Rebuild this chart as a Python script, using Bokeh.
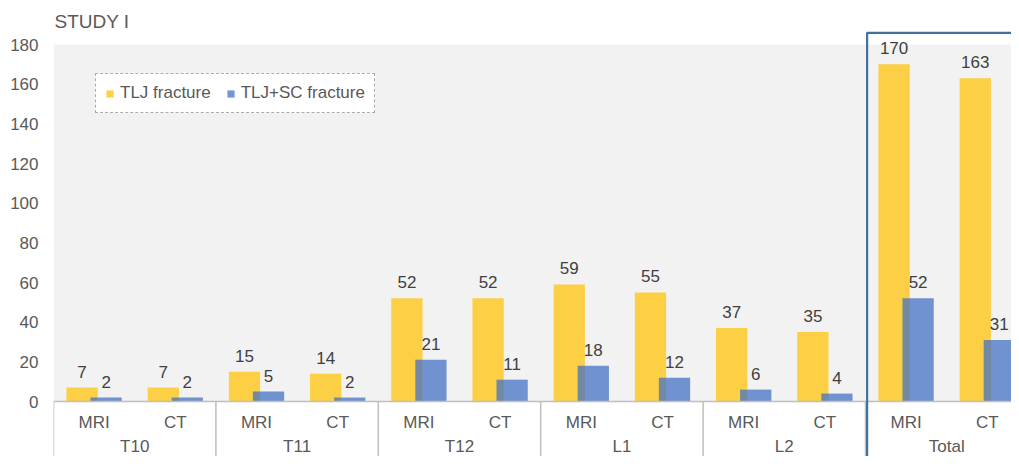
from bokeh.plotting import figure
from bokeh.models import (Range1d, FixedTicker, BoxAnnotation, Span, Legend,
                          LegendItem, ColumnDataSource)
from bokeh.core.properties import value
from bokeh.embed import file_html
from bokeh.resources import INLINE

# ---------------- data ----------------
title_text = "STUDY I"
groups = ["T10", "T11", "T12", "L1", "L2", "Total"]
modalities = ["MRI", "CT"]
tlj_fracture = [7, 7, 15, 14, 52, 52, 59, 55, 37, 35, 170, 163]
tlj_sc_fracture = [2, 2, 5, 2, 21, 11, 18, 12, 6, 4, 52, 31]
series_names = ["TLJ fracture", "TLJ+SC fracture"]
y_ticks = [0, 20, 40, 60, 80, 100, 120, 140, 160, 180]
highlight_group = "Total"

# ---------------- layout constants ----------------
FONT = "Liberation Sans"
GRAY_TXT = "#595959"
LABEL_TXT = "#404040"
AXIS_GRAY = "#bfbfbf"
YELLOW = "#FFC000"
BLUE = "#4472C4"
PX_PER_UNIT = 357 / 180.0
CAT_PX = 81.2
W, H = 1011, 456
LEFT = 53
FRAME_W = W - LEFT
Y_TOP = 180 + 44 / PX_PER_UNIT
Y_BOT = -(H - 401) / PX_PER_UNIT
DODGE = 0.148
BAR_W = 0.385

n_sub = len(modalities)
sub_labels = [m for g in groups for m in modalities]
centers = [i + 0.5 for i in range(len(sub_labels))]
group_centers = [n_sub * g + n_sub / 2 for g in range(len(groups))]
bounds = [n_sub * g for g in range(len(groups))]

src = ColumnDataSource(dict(
    xa=[c - DODGE for c in centers],
    xb=[c + DODGE for c in centers],
    a=tlj_fracture, b=tlj_sc_fracture,
    ta=[str(v) for v in tlj_fracture], tb=[str(v) for v in tlj_sc_fracture],
    zero=[0] * len(centers), xc=centers, sub=sub_labels,
))

p = figure(width=W, height=H, output_backend="svg", toolbar_location=None,
           x_range=Range1d(0, FRAME_W / CAT_PX), y_range=Range1d(Y_BOT, Y_TOP),
           x_axis_location=None, min_border_left=LEFT, min_border_right=0,
           min_border_top=0, min_border_bottom=0)
p.outline_line_color = None
p.background_fill_color = "white"
p.border_fill_color = "white"
p.grid.visible = False

# plot-area background (0..180)
p.add_layout(BoxAnnotation(bottom=0, top=y_ticks[-1], fill_color="#f2f2f2",
                           fill_alpha=1, line_color=None, level="underlay"))

# y axis
ya = p.yaxis[0]
ya.ticker = FixedTicker(ticks=y_ticks)
ya.axis_line_color = None
ya.major_tick_line_color = None
ya.minor_tick_line_color = None
ya.major_tick_out = 0
ya.major_tick_in = 0
ya.major_label_standoff = 15
ya.major_label_text_font = FONT
ya.major_label_text_font_size = "17px"
ya.major_label_text_color = GRAY_TXT

# bars
ra = p.vbar(x="xa", top="a", width=BAR_W, source=src, fill_color=YELLOW,
            fill_alpha=0.72, line_color=None)
rb = p.vbar(x="xb", top="b", width=BAR_W, source=src, fill_color=BLUE,
            fill_alpha=0.75, line_color=None)

# value labels
for xcol, ycol, tcol in (("xa", "a", "ta"), ("xb", "b", "tb")):
    p.text(x=xcol, y=ycol, text=tcol, source=src, text_align="center",
           text_baseline="middle", y_offset=-16, text_font=value(FONT),
           text_font_size="17px", text_color=LABEL_TXT)

# x axis line and category boxes
p.add_layout(Span(location=0, dimension="width", line_color=AXIS_GRAY,
                  line_width=1.5))
p.segment(x0=bounds, y0=[0] * len(bounds), x1=bounds, y1=[Y_BOT] * len(bounds),
          line_color=AXIS_GRAY, line_width=1.5)
p.text(x="xc", y="zero", text="sub", source=src, text_align="center",
       text_baseline="middle", y_offset=21, text_font=value(FONT),
       text_font_size="17px", text_color=GRAY_TXT)
p.text(x=group_centers, y=[0] * len(groups), text=groups, text_align="center",
       text_baseline="middle", y_offset=45, text_font=value(FONT),
       text_font_size="17px", text_color=GRAY_TXT)

# highlight box around "Total"
hg = groups.index(highlight_group)
p.add_layout(BoxAnnotation(left=n_sub * hg + 0.02, right=n_sub * hg + n_sub + 0.5,
                           top=180 + 11.7 / PX_PER_UNIT, bottom=Y_BOT - 5,
                           fill_alpha=0, line_color="#41719C", line_alpha=1,
                           line_width=2.2, level="overlay"))

# title
p.text(x=[0], y=[y_ticks[-1]], text=[title_text], text_align="left",
       text_baseline="middle", x_offset=1, y_offset=-23, text_font=value(FONT),
       text_font_size="19px", text_color=GRAY_TXT)

# legend
legend = Legend(items=[LegendItem(label=series_names[0], renderers=[ra]),
                       LegendItem(label=series_names[1], renderers=[rb])],
                orientation="horizontal", location=(42, 343),
                border_line_color=GRAY_TXT, border_line_dash="3 2",
                border_line_width=1, background_fill_color="white",
                background_fill_alpha=1, label_text_font=FONT,
                label_text_font_size="17px", label_text_color=GRAY_TXT,
                glyph_width=9, glyph_height=9, label_standoff=6, spacing=15,
                padding=9, margin=0, label_height=18)
p.add_layout(legend)

open("out.html", "w").write(file_html(p, INLINE))
